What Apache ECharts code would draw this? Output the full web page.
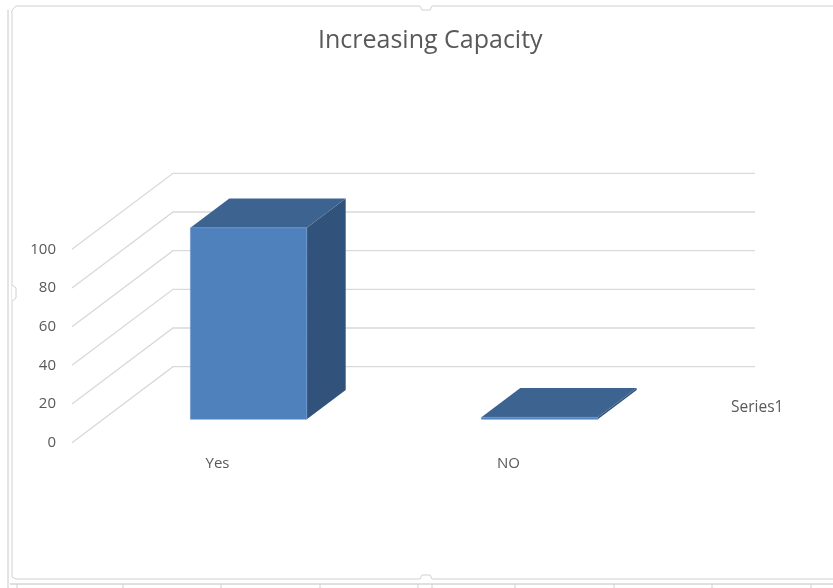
<!DOCTYPE html>
<html>
<head>
<meta charset="utf-8">
<script src="https://cdn.jsdelivr.net/npm/echarts@6/dist/echarts.min.js"></script>
<style>
html,body{margin:0;padding:0;background:#fff;}
#main{width:833px;height:588px;}
</style>
</head>
<body>
<div id="main"></div>
<script>
// ---- data ----
var categories = ['Yes', 'NO'];
var values = [99, 1];
var yTicks = [0, 20, 40, 60, 80, 100];
var seriesName = 'Series1';
var titleText = 'Increasing Capacity';

// ---- style / layout constants ----
var DEPTH_X = 101, DEPTH_Y = -76;   // full floor depth vector (px)
var BAR_T0 = 0.308, BAR_T1 = 0.693; // bar depth span as fraction of floor depth
var BAR_W = 0.4;                    // bar width as fraction of band
var FRONT = '#4f81bd', TOP = '#3d6390', SIDE = '#31537b';
var GRID = '#d9d9d9', FRAME = '#d0d0d0';
var FONT = 'Open Sans';

var chart = echarts.init(document.getElementById('main'), null, {renderer: 'canvas'});

function wallItem(params, api) {
  var cs = params.coordSys;
  var y = api.coord([0, api.value(1)])[1];
  return {
    type: 'polyline',
    shape: {points: [[cs.x, y], [cs.x + DEPTH_X, y + DEPTH_Y], [cs.x + cs.width + DEPTH_X, y + DEPTH_Y]]},
    style: {stroke: GRID, lineWidth: 1.3, fill: null},
    silent: true
  };
}

function barItem(params, api) {
  var idx = api.value(0), v = api.value(1);
  var top = api.coord([idx, v]);
  var base = api.coord([idx, 0]);
  var band = api.size([1, 0])[0];
  var w = band * BAR_W;
  var ox0 = DEPTH_X * BAR_T0, oy0 = DEPTH_Y * BAR_T0;
  var ox1 = DEPTH_X * BAR_T1, oy1 = DEPTH_Y * BAR_T1;
  var xl = top[0] - w / 2, xr = top[0] + w / 2;
  var yt = top[1], yb = base[1];
  var flt = [xl + ox0, yt + oy0], frt = [xr + ox0, yt + oy0];
  var flb = [xl + ox0, yb + oy0], frb = [xr + ox0, yb + oy0];
  var blt = [xl + ox1, yt + oy1], brt = [xr + ox1, yt + oy1];
  var brb = [xr + ox1, yb + oy1];
  return {
    type: 'group',
    children: [
      {type: 'polygon', shape: {points: [frt, brt, brb, frb]}, style: {fill: SIDE}},
      {type: 'polygon', shape: {points: [flt, frt, brt, blt]}, style: {fill: TOP}},
      {type: 'polygon', shape: {points: [flt, frt, frb, flb]}, style: {fill: FRONT, stroke: '#6a96cc', lineWidth: 0.6}}
    ]
  };
}

var option = {
  backgroundColor: '#ffffff',
  animation: false,
  title: {
    text: titleText,
    left: 313,
    top: 23,
    textStyle: {color: '#595959', fontSize: 25, fontWeight: 'normal', fontFamily: FONT}
  },
  legend: {
    data: [{name: seriesName, icon: 'none'}],
    left: 721,
    top: 395,
    itemWidth: 0,
    itemHeight: 0,
    textStyle: {color: '#595959', fontSize: 15.5, fontFamily: FONT}
  },
  grid: {left: 72, right: 179, top: 249.3, bottom: 145.3},
  xAxis: {
    type: 'category',
    data: categories,
    axisLine: {show: false},
    axisTick: {show: false},
    axisLabel: {color: '#595959', fontSize: 15, fontFamily: FONT, margin: 14}
  },
  yAxis: {
    type: 'value',
    min: 0,
    max: 100,
    interval: 20,
    axisLine: {show: false},
    axisTick: {show: false},
    splitLine: {show: false},
    axisLabel: {color: '#595959', fontSize: 15, fontFamily: FONT, margin: 16}
  },
  series: [
    {
      type: 'custom',
      name: 'walls',
      renderItem: wallItem,
      data: yTicks.map(function (t) { return [0, t]; }),
      encode: {x: 0, y: 1},
      silent: true,
      z: 1
    },
    {
      type: 'custom',
      name: seriesName,
      renderItem: barItem,
      data: values.map(function (v, i) { return [i, v]; }),
      encode: {x: 0, y: 1},
      itemStyle: {color: FRONT},
      z: 2
    }
  ],
  graphic: [
    {type: 'polyline', shape: {points: [[12, 577], [12, 10], [16, 6], [420, 6], [422, 10], [430, 10], [432, 6], [840, 6]]}, style: {stroke: FRAME, fill: null, lineWidth: 1}, silent: true},
    {type: 'line', shape: {x1: 8, y1: 10, x2: 8, y2: 588}, style: {stroke: '#c8c8c8', lineWidth: 1}, silent: true},
    {type: 'polyline', shape: {points: [[12, 285], [16, 288], [16, 298], [12, 301]]}, style: {stroke: FRAME, fill: '#fff', lineWidth: 1}, silent: true},
    {type: 'polyline', shape: {points: [[12, 577], [16, 579], [420, 579], [422, 575], [430, 575], [432, 579], [840, 579]]}, style: {stroke: FRAME, fill: null, lineWidth: 1}, silent: true},
    {type: 'line', shape: {x1: 10, y1: 584, x2: 833, y2: 584}, style: {stroke: '#c0c0c0', lineWidth: 1}, silent: true},
    {type: 'group', silent: true, children: [17, 123, 221, 320, 418, 432, 515, 614, 712, 811].map(function (x) {
      return {type: 'line', shape: {x1: x, y1: 584, x2: x, y2: 588}, style: {stroke: '#d0d0d0', lineWidth: 1}};
    })}
  ]
};
chart.setOption(option);
</script>
</body>
</html>
